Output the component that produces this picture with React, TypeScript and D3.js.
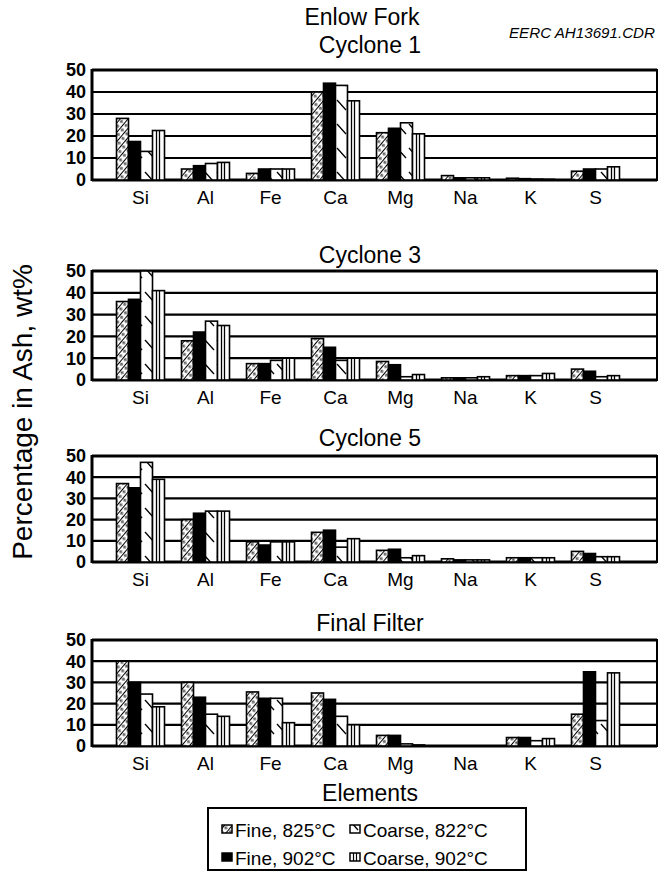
import React from 'react';
import * as d3 from 'd3';

// elements on the x axis
const elements = ['Si', 'Al', 'Fe', 'Ca', 'Mg', 'Na', 'K', 'S'];
const seriesLabels = ['Fine, 825°C', 'Fine, 902°C', 'Coarse, 822°C', 'Coarse, 902°C'];
const yTicks = [0, 10, 20, 30, 40, 50];

// values per panel: fine 825, fine 902, coarse 822, coarse 902
const cyclone1 = [
  [28, 5, 3, 40, 21.5, 2, 0.8, 4],
  [17.5, 6.5, 5, 44, 23.5, 1, 0.6, 5],
  [13, 7.5, 5, 43, 26, 1, 0.4, 5],
  [22.5, 8, 5, 36, 21, 1, 0.3, 6],
];
const cyclone3 = [
  [36, 18, 7.5, 19, 8.5, 1, 2, 5],
  [37, 22, 7.5, 15, 7, 1, 2, 4],
  [50, 27, 9, 9, 1.5, 1, 2, 1.5],
  [41, 25, 10, 10, 2.5, 1.5, 3, 2],
];
const cyclone5 = [
  [37, 20, 9.5, 14, 5.5, 1.5, 2, 5],
  [35, 23, 8, 15, 6, 1, 2, 4],
  [47, 24, 9.5, 7, 2, 1, 2, 2.5],
  [39, 24, 9.5, 11, 3, 1, 2, 2.5],
];
const finalFilter = [
  [40, 30, 25.5, 25, 5, 0, 4, 15],
  [30, 23, 22.5, 22, 5, 0, 4, 35],
  [24.5, 15, 22.5, 14, 1, 0, 2.5, 12],
  [18.5, 14, 11, 10, 0.5, 0, 3.5, 34.5],
];

const panels = [
  { title: 'Cyclone 1', data: cyclone1, top: 70, bottom: 180, titleY: 45 },
  { title: 'Cyclone 3', data: cyclone3, top: 271, bottom: 380, titleY: 255 },
  { title: 'Cyclone 5', data: cyclone5, top: 456, bottom: 562, titleY: 438 },
  { title: 'Final Filter', data: finalFilter, top: 640, bottom: 746, titleY: 623 },
];

const fills = ['url(#fine825)', '#000', 'url(#coarse822)', '#fff'];
const font = "'Liberation Sans', Arial, Helvetica, sans-serif";
const left = 92;
const right = 657;
const barW = 12;

const x = d3.scaleBand().domain(elements).range([108, 628]).paddingInner(0).paddingOuter(0);
const sub = d3.scaleBand().domain(d3.range(4).map(String)).range([0, barW * 4]);

function Panel({ p }) {
  const y = d3.scaleLinear().domain([0, 50]).range([p.bottom, p.top]);
  const bars = [];
  p.data.forEach((vals, s) => {
    vals.forEach((v, i) => {
      const bx = x(elements[i]) + x.bandwidth() / 2 - barW * 2 + sub(String(s));
      const by = y(v);
      const h = y(0) - by;
      bars.push(
        <g key={s + '-' + i}>
          <rect x={bx} y={by} width={barW} height={h} fill={fills[s]} stroke="#000" strokeWidth={1.6} />
          {s === 3 && h > 2 && (
            <g stroke="#000" strokeWidth={1.3}>
              <line x1={bx + 4} x2={bx + 4} y1={by} y2={y(0)} />
              <line x1={bx + 7} x2={bx + 7} y1={by} y2={y(0)} />
            </g>
          )}
        </g>
      );
    });
  });
  return (
    <g>
      <text x={370} y={p.titleY} dy="0.36em" textAnchor="middle" fontSize={23} fontFamily={font}>{p.title}</text>
      {yTicks.map(t => (
        <g key={t}>
          <line x1={left} x2={right} y1={y(t)} y2={y(t)} stroke="#000" strokeWidth={t === 0 || t === 50 ? 2.8 : 2.2} />
          <text x={86} y={y(t)} dy="0.36em" textAnchor="end" fontSize={18} fontWeight="bold" fontFamily={font}>{t}</text>
        </g>
      ))}
      <line x1={left} x2={left} y1={p.top - 1} y2={p.bottom + 1} stroke="#000" strokeWidth={3} />
      <line x1={right} x2={right} y1={p.top - 1} y2={p.bottom + 1} stroke="#000" strokeWidth={2} />
      {bars}
      {elements.map(e => (
        <text key={e} x={x(e) + x.bandwidth() / 2} y={p.bottom + 17} dy="0.36em" textAnchor="middle" fontSize={19} fontFamily={font}>{e}</text>
      ))}
    </g>
  );
}

function Swatch({ i, xx, yy }) {
  return (
    <g>
      <rect x={xx} y={yy} width={10} height={8} fill={fills[i]} stroke="#000" strokeWidth={1.5} />
      {i === 3 && (
        <g stroke="#000" strokeWidth={1.2}>
          <line x1={xx + 3.5} x2={xx + 3.5} y1={yy} y2={yy + 8} />
          <line x1={xx + 6.5} x2={xx + 6.5} y1={yy} y2={yy + 8} />
        </g>
      )}
    </g>
  );
}

export default function App() {
  const legendPos = [
    [222, 830], [222, 858], [350, 830], [350, 858],
  ];
  return (
    <svg width={660} height={874} style={{ position: 'absolute', left: 0, top: 0, background: '#fff' }}>
      <defs>
        <pattern id="fine825" patternUnits="userSpaceOnUse" width={6} height={6} patternTransform="rotate(40)">
          <rect width={6} height={6} fill="#fff" />
          <line x1={0} x2={0} y1={0} y2={6} stroke="#000" strokeWidth={2} />
          <circle cx={3.2} cy={3} r={1.1} fill="none" stroke="#000" strokeWidth={0.8} />
        </pattern>
        <pattern id="coarse822" patternUnits="userSpaceOnUse" width={12} height={24}>
          <rect width={12} height={24} fill="#fff" />
          <line x1={1} y1={4} x2={10} y2={14} stroke="#000" strokeWidth={1.3} />
        </pattern>
      </defs>
      <text x={362} y={17} dy="0.36em" textAnchor="middle" fontSize={23} fontFamily={font}>Enlow Fork</text>
      <text x={655} y={33} dy="0.36em" textAnchor="end" fontSize={15} fontStyle="italic" fontFamily={font} textLength={146} lengthAdjust="spacingAndGlyphs">EERC AH13691.CDR</text>
      {panels.map(p => <Panel key={p.title} p={p} />)}
      <text transform="translate(22,412) rotate(-90)" dy="0.36em" textAnchor="middle" fontSize={28} fontFamily={font}>Percentage in Ash, wt%</text>
      <text x={370} y={793} dy="0.36em" textAnchor="middle" fontSize={23} fontFamily={font}>Elements</text>
      <rect x={208} y={808} width={318} height={62} fill="none" stroke="#000" strokeWidth={2} />
      {seriesLabels.map((s, i) => (
        <g key={s}>
          <Swatch i={i} xx={legendPos[i][0]} yy={legendPos[i][1] - 5} />
          <text x={legendPos[i][0] + 13} y={legendPos[i][1]} dy="0.36em" fontSize={19} fontFamily={font}>{s}</text>
        </g>
      ))}
    </svg>
  );
}
